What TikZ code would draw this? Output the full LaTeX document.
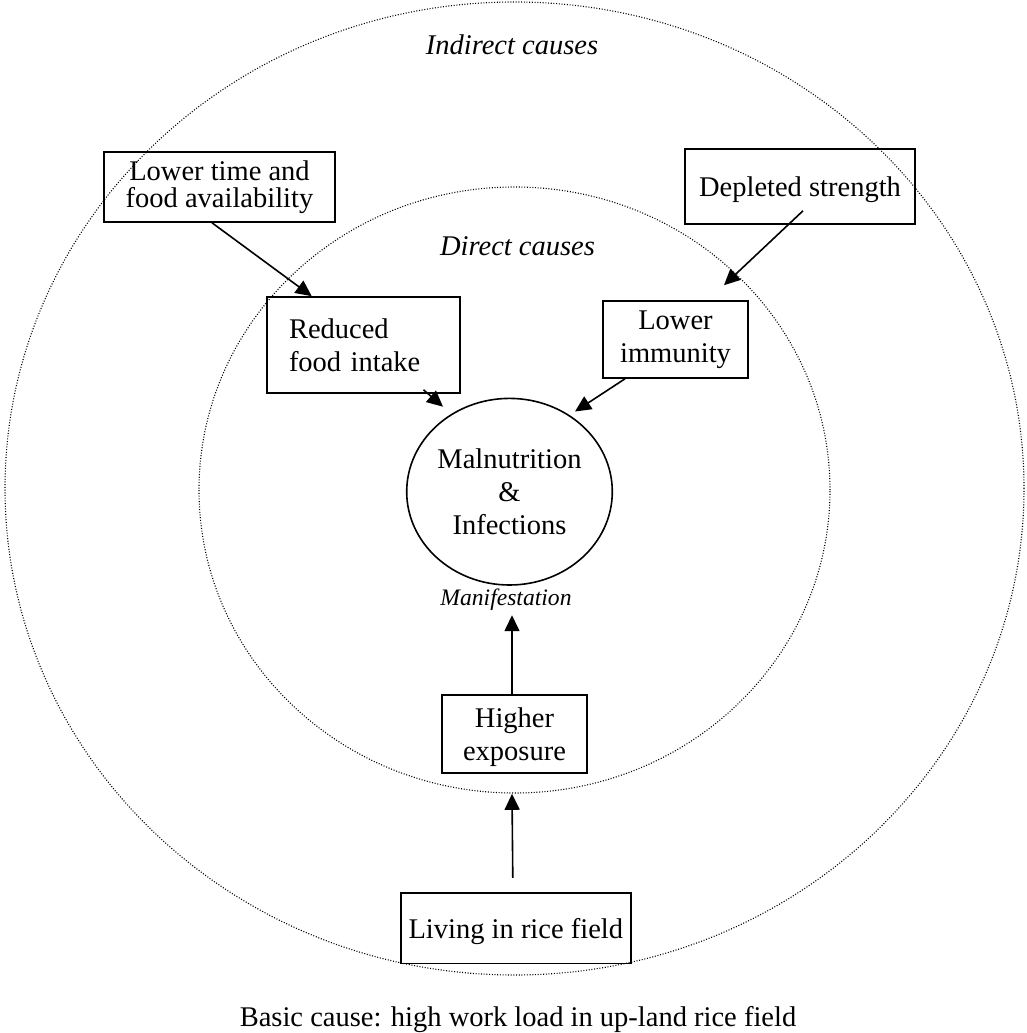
\documentclass[tikz,border=0pt]{standalone}
\usepackage{fontspec}
\setmainfont{Liberation Serif}
\usetikzlibrary{shapes.geometric,arrows.meta}
\begin{document}
\begin{tikzpicture}[x=1pt,y=-1pt,
  every node/.style={font=\fontsize{28.5}{33}\selectfont},
  box/.style={draw, line width=1.6pt, inner sep=0pt, align=center},
  zone/.style={draw, line width=1.1pt, dash pattern=on 1pt off 1.7pt, ellipse, inner sep=0pt},
  arr/.style={line width=1.6pt, -{Triangle[length=16pt,width=15pt]}},
  lbl/.style={font=\fontsize{28.5}{33}\selectfont\itshape, inner sep=0pt, anchor=base}
]
\useasboundingbox (0,0) rectangle (1027,1033);
% zones
\node[zone, minimum width=1019pt, minimum height=973pt] (outer) at (514.5,488.5) {};
\node[zone, minimum width=631pt, minimum height=606pt] (inner) at (514.5,490) {};
% boxes
\node[box, minimum width=231pt, minimum height=70pt, font=\fontsize{28.5}{27.6}\selectfont] (lt) at (219.5,187) {Lower time and\\food availability};
\node[box, minimum width=230pt, minimum height=75pt, text depth=0pt] (ds) at (800,186.5) {Depleted strength};
\node[box, text width=149pt, inner xsep=22pt, align=left, minimum height=96pt] (rf) at (363.5,345) {Reduced\\food intake};
\node[box, minimum width=145pt, minimum height=77pt] (li) at (675.5,339.5) {Lower\\immunity};
\node[ellipse, draw, line width=1.6pt, inner sep=0pt, minimum width=205.6pt, minimum height=186.6pt, align=center] (mc) at (509.5,491.7) {Malnutrition\\\&\\Infections};
\node[box, minimum width=145pt, minimum height=78pt, text depth=0pt] (he) at (514.5,734) {Higher\\exposure};
\node[box, minimum width=230pt, minimum height=70.6pt, text depth=0pt] (lv) at (515.8,928) {Living in rice field};
% labels
\node[lbl] (ic) at (512,55) {Indirect causes};
\node[lbl] (dc) at (517.5,255) {Direct causes};
\node[lbl, font=\fontsize{23.6}{28}\selectfont\itshape] (mf) at (506,605) {Manifestation};
\node[inner sep=0pt, anchor=base] (bc) at (518,1026) {Basic cause: high work load in up-land rice field};
% arrows
\draw[arr] ([xshift=-7.5pt]lt.south) -- ([xshift=-51.8pt]rf.north);
\draw[arr] ([xshift=3pt,yshift=14pt]ds.south) -- ([xshift=48.5pt,yshift=15pt]li.north);
\draw[arr] ([xshift=60pt,yshift=4pt]rf.south) -- ([shift={(-66.5,-85)}]mc.center);
\draw[arr] ([xshift=-50.5pt]li.south) -- ([shift={(65.5,-80.2)}]mc.center);
\draw[arr] ([xshift=-2.5pt]he.north) -- ([xshift=-2.5pt,yshift=-5pt]he.north |- mf.south);
\draw[arr] ([xshift=-3pt,yshift=14pt]lv.north) -- ([xshift=-2.5pt,yshift=-20pt]he.south);
\end{tikzpicture}
\end{document}
